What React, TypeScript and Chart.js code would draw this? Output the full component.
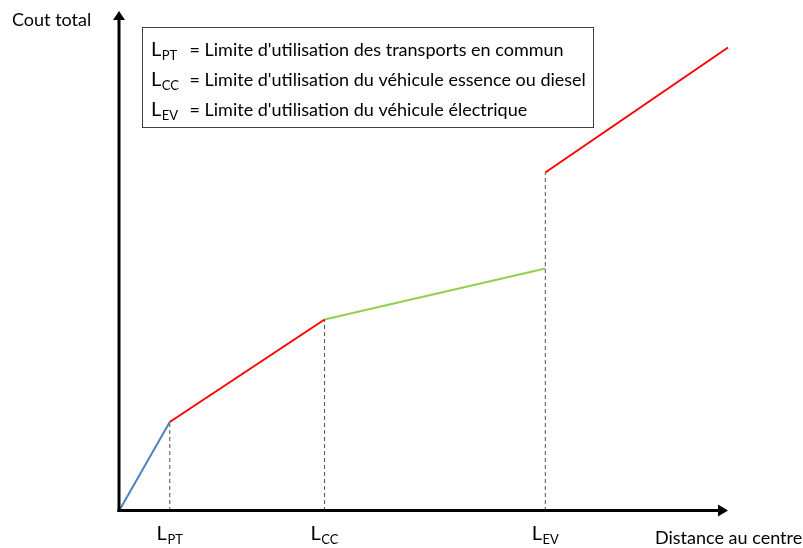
import React, { useEffect, useRef } from "react";
import { Chart, registerables } from "chart.js";

Chart.register(...registerables);

// ---- data (conceptual units) ----
const limitNames = ["PT", "CC", "EV"];
const limitX = [1, 4.05, 8.4];
const bluePoints = [
  { x: 0, y: 0 },
  { x: 1, y: 1.78 },
];
const redPoints1 = [
  { x: 1, y: 1.78 },
  { x: 4.05, y: 3.83 },
];
const greenPoints = [
  { x: 4.05, y: 3.83 },
  { x: 8.4, y: 4.85 },
];
const redPoints2 = [
  { x: 8.4, y: 6.77 },
  { x: 12, y: 9.27 },
];
const dropTops = [1.78, 3.83, 6.77];
const legendTexts = [
  "= Limite d'utilisation des transports en commun",
  "= Limite d'utilisation du véhicule essence ou diesel",
  "= Limite d'utilisation du véhicule électrique",
];
const xTitle = "Distance au centre";
const yTitle = "Cout total";
const xMax = 12;
const yMax = 10;

const FONT = "Lato, 'Open Sans', sans-serif";

function drawLSub(
  ctx: CanvasRenderingContext2D,
  x: number,
  baseline: number,
  sub: string,
  center: boolean
) {
  ctx.font = `20px ${FONT}`;
  const wL = ctx.measureText("L").width;
  ctx.font = `13px ${FONT}`;
  const wS = ctx.measureText(sub).width;
  const total = wL + wS + 0.5;
  const x0 = center ? x - total / 2 : x;
  ctx.textAlign = "left";
  ctx.textBaseline = "alphabetic";
  ctx.font = `20px ${FONT}`;
  ctx.fillText("L", x0, baseline);
  ctx.font = `13px ${FONT}`;
  ctx.fillText(sub, x0 + wL + 0.5, baseline + 3.5);
}

const decorPlugin = {
  id: "decor",
  afterDatasetsDraw(chart: any) {
    const ctx: CanvasRenderingContext2D = chart.ctx;
    const xs = chart.scales.x;
    const ys = chart.scales.y;
    const area = chart.chartArea;
    const ox = xs.getPixelForValue(0);
    const oy = ys.getPixelForValue(0);
    const xEnd = area.right;
    const yEnd = area.top;
    ctx.save();
    ctx.fillStyle = "#000";
    ctx.strokeStyle = "#000";
    ctx.lineWidth = 3;
    // x axis
    ctx.beginPath();
    ctx.moveTo(ox - 1.5, oy - 0.5);
    ctx.lineTo(xEnd - 8, oy - 0.5);
    ctx.stroke();
    ctx.beginPath();
    ctx.moveTo(xEnd, oy - 0.5);
    ctx.lineTo(xEnd - 10, oy - 6.5);
    ctx.lineTo(xEnd - 10, oy + 5.5);
    ctx.closePath();
    ctx.fill();
    // y axis
    ctx.beginPath();
    ctx.moveTo(ox, oy + 1);
    ctx.lineTo(ox, yEnd + 8);
    ctx.stroke();
    ctx.beginPath();
    ctx.moveTo(ox, yEnd);
    ctx.lineTo(ox - 6, yEnd + 9);
    ctx.lineTo(ox + 6, yEnd + 9);
    ctx.closePath();
    ctx.fill();

    // axis titles
    ctx.fillStyle = "#000";
    ctx.font = `18px ${FONT}`;
    ctx.textAlign = "left";
    ctx.textBaseline = "alphabetic";
    ctx.fillText(yTitle, ox - 107, yEnd + 15);
    ctx.fillText(xTitle, xEnd - 73, oy + 33);

    // tick labels
    limitNames.forEach((n, i) => {
      drawLSub(ctx, xs.getPixelForValue(limitX[i]), oy + 29, n, true);
    });

    // legend box
    const bx = ox + 23.5;
    const by = yEnd + 16.5;
    const bw = 451;
    const bh = 100;
    ctx.fillStyle = "#fff";
    ctx.fillRect(bx, by, bw, bh);
    ctx.strokeStyle = "#404040";
    ctx.lineWidth = 1;
    ctx.strokeRect(bx, by, bw, bh);
    ctx.fillStyle = "#000";
    limitNames.forEach((n, i) => {
      const base = by + 28.5 + i * 30;
      drawLSub(ctx, bx + 8.5, base, n, false);
      ctx.font = `18px ${FONT}`;
      ctx.textAlign = "left";
      ctx.fillText(legendTexts[i], bx + 47, base);
    });
    ctx.restore();
  },
};

export default function App() {
  const ref = useRef<HTMLCanvasElement | null>(null);
  useEffect(() => {
    document.body.style.margin = "0";
    const canvas = ref.current;
    if (!canvas) return;
    const dash = (i: number) => ({
      data: [
        { x: limitX[i], y: 0 },
        { x: limitX[i], y: dropTops[i] },
      ],
      borderColor: "#505050",
      borderWidth: 1,
      borderDash: [4, 3],
      pointRadius: 0,
      clip: false as any,
    });
    const solid = (data: any[], color: string) => ({
      data,
      borderColor: color,
      borderWidth: 2,
      pointRadius: 0,
      clip: false as any,
    });
    const chart = new Chart(canvas, {
      type: "line",
      data: {
        datasets: [
          solid(bluePoints, "#4F81BD"),
          solid(redPoints1, "#FF0000"),
          solid(greenPoints, "#92D050"),
          solid(redPoints2, "#FF0000"),
          dash(0),
          dash(1),
          dash(2),
        ] as any,
      },
      options: {
        animation: false,
        responsive: false,
        events: [],
        layout: { padding: { left: 119, top: 11, right: 75, bottom: 37 } },
        plugins: { legend: { display: false }, tooltip: { enabled: false } },
        scales: {
          x: { type: "linear", min: 0, max: xMax, display: false },
          y: { type: "linear", min: 0, max: yMax, display: false },
        },
      },
      plugins: [decorPlugin],
    });
    return () => chart.destroy();
  }, []);
  return (
    <div style={{ width: 803, height: 548, background: "#fff" }}>
      <canvas ref={ref} width={803} height={548} />
    </div>
  );
}
